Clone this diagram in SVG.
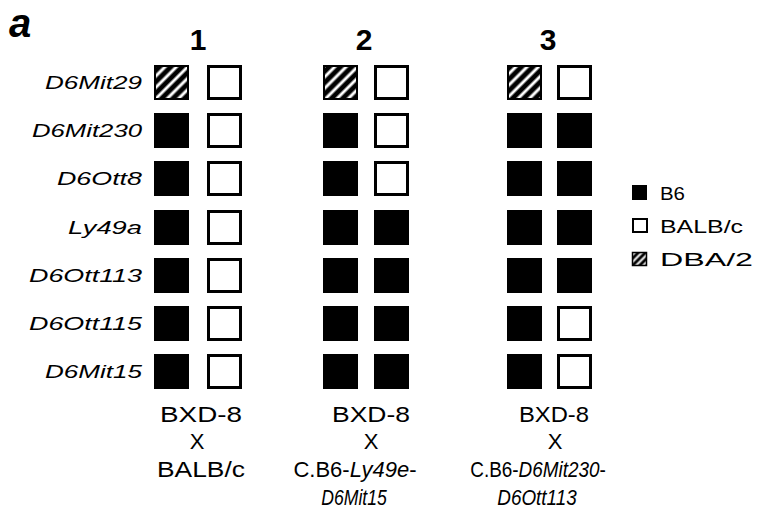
<svg xmlns="http://www.w3.org/2000/svg" width="762" height="518" viewBox="0 0 762 518">
  <style>
    .bg { fill: #ffffff; }
    .txt { font-family: "Liberation Sans", Arial, sans-serif; fill: #000000; }
    .marker { font-size: 18px; font-style: italic; text-anchor: end; }
    .num { font-size: 30px; font-weight: bold; text-anchor: middle; }
    .cross { font-size: 22px; text-anchor: middle; }
    .legend { font-size: 18px; }
    .it { font-style: italic; }
    .b6 { fill: #000000; }
    .balb { fill: #ffffff; stroke: #000000; stroke-width: 3; }
    .dba { fill: url(#hatch); stroke: #000000; stroke-width: 2; }
    .dba-s { fill: url(#hatchSmall); stroke: #000000; stroke-width: 1.5; }
  </style>
  <defs>
    <pattern id="hatch" patternUnits="userSpaceOnUse" width="8" height="8" patternTransform="rotate(45)">
      <rect width="8" height="8" fill="#000000"/>
      <rect x="2.5" y="0" width="3" height="8" fill="#ffffff"/>
    </pattern>
    <pattern id="hatchSmall" patternUnits="userSpaceOnUse" width="5" height="5" patternTransform="rotate(45)">
      <rect width="5" height="5" fill="#000000"/>
      <rect x="1.5" y="0" width="2" height="5" fill="#ffffff"/>
    </pattern>
  </defs>

  <rect class="bg" x="0" y="0" width="762" height="518"/>

  <!-- panel letter -->
  <text id="panel-label" class="txt" x="9" y="37" font-size="40" font-weight="bold" font-style="italic">a</text>

  <!-- marker names, one per row -->
  <g id="markers" class="txt marker">
    <text x="142" y="89" textLength="97" lengthAdjust="spacingAndGlyphs">D6Mit29</text>
    <text x="142" y="137" textLength="110" lengthAdjust="spacingAndGlyphs">D6Mit230</text>
    <text x="142" y="185" textLength="85" lengthAdjust="spacingAndGlyphs">D6Ott8</text>
    <text x="142" y="234" textLength="74" lengthAdjust="spacingAndGlyphs">Ly49a</text>
    <text x="142" y="282" textLength="113" lengthAdjust="spacingAndGlyphs">D6Ott113</text>
    <text x="142" y="330" textLength="113" lengthAdjust="spacingAndGlyphs">D6Ott115</text>
    <text x="142" y="378" textLength="97" lengthAdjust="spacingAndGlyphs">D6Mit15</text>
  </g>

  <!-- cross 1: BXD-8 x BALB/c -->
  <g id="cross-1">
    <text class="txt num" x="198" y="50">1</text>
    <rect class="dba" x="155" y="66" width="33" height="33"/>
    <rect class="b6" x="154" y="113" width="35" height="35"/>
    <rect class="b6" x="154" y="161" width="35" height="35"/>
    <rect class="b6" x="154" y="210" width="35" height="35"/>
    <rect class="b6" x="154" y="258" width="35" height="35"/>
    <rect class="b6" x="154" y="306" width="35" height="35"/>
    <rect class="b6" x="154" y="354" width="35" height="35"/>
    <rect class="balb" x="208.5" y="66.5" width="32" height="32"/>
    <rect class="balb" x="208.5" y="114.5" width="32" height="32"/>
    <rect class="balb" x="208.5" y="162.5" width="32" height="32"/>
    <rect class="balb" x="208.5" y="211.5" width="32" height="32"/>
    <rect class="balb" x="208.5" y="259.5" width="32" height="32"/>
    <rect class="balb" x="208.5" y="307.5" width="32" height="32"/>
    <rect class="balb" x="208.5" y="355.5" width="32" height="32"/>
    <text class="txt cross" x="201" y="422" textLength="82" lengthAdjust="spacingAndGlyphs">BXD-8</text>
    <text class="txt cross" x="197" y="449">X</text>
    <text class="txt cross" x="201" y="477" textLength="88" lengthAdjust="spacingAndGlyphs">BALB/c</text>
  </g>

  <!-- cross 2: BXD-8 x C.B6-Ly49e-D6Mit15 -->
  <g id="cross-2">
    <text class="txt num" x="364" y="50">2</text>
    <rect class="dba" x="324" y="66" width="33" height="33"/>
    <rect class="b6" x="323" y="113" width="35" height="35"/>
    <rect class="b6" x="323" y="161" width="35" height="35"/>
    <rect class="b6" x="323" y="210" width="35" height="35"/>
    <rect class="b6" x="323" y="258" width="35" height="35"/>
    <rect class="b6" x="323" y="306" width="35" height="35"/>
    <rect class="b6" x="323" y="354" width="35" height="35"/>
    <rect class="balb" x="375.5" y="66.5" width="32" height="32"/>
    <rect class="balb" x="375.5" y="114.5" width="32" height="32"/>
    <rect class="balb" x="375.5" y="162.5" width="32" height="32"/>
    <rect class="b6" x="374" y="210" width="35" height="35"/>
    <rect class="b6" x="374" y="258" width="35" height="35"/>
    <rect class="b6" x="374" y="306" width="35" height="35"/>
    <rect class="b6" x="374" y="354" width="35" height="35"/>
    <text class="txt cross" x="371" y="422" textLength="78" lengthAdjust="spacingAndGlyphs">BXD-8</text>
    <text class="txt cross" x="371" y="449">X</text>
    <text class="txt cross" x="355" y="477">C.B6-<tspan class="it">Ly49e</tspan>-</text>
    <g transform="translate(354,505) scale(0.8,1)">
      <text class="txt cross it" x="0" y="0">D6Mit15</text>
    </g>
  </g>

  <!-- cross 3: BXD-8 x C.B6-D6Mit230-D6Ott113 -->
  <g id="cross-3">
    <text class="txt num" x="548" y="50">3</text>
    <rect class="dba" x="508" y="66" width="33" height="33"/>
    <rect class="b6" x="507" y="113" width="35" height="35"/>
    <rect class="b6" x="507" y="161" width="35" height="35"/>
    <rect class="b6" x="507" y="210" width="35" height="35"/>
    <rect class="b6" x="507" y="258" width="35" height="35"/>
    <rect class="b6" x="507" y="306" width="35" height="35"/>
    <rect class="b6" x="507" y="354" width="35" height="35"/>
    <rect class="balb" x="558.5" y="66.5" width="32" height="32"/>
    <rect class="b6" x="557" y="113" width="35" height="35"/>
    <rect class="b6" x="557" y="161" width="35" height="35"/>
    <rect class="b6" x="557" y="210" width="35" height="35"/>
    <rect class="b6" x="557" y="258" width="35" height="35"/>
    <rect class="balb" x="558.5" y="307.5" width="32" height="32"/>
    <rect class="balb" x="558.5" y="355.5" width="32" height="32"/>
    <text class="txt cross" x="554" y="422" textLength="70" lengthAdjust="spacingAndGlyphs">BXD-8</text>
    <text class="txt cross" x="555" y="449">X</text>
    <g transform="translate(538,477) scale(0.86,1)">
      <text class="txt cross" x="0" y="0">C.B6-<tspan class="it">D6Mit230</tspan>-</text>
    </g>
    <g transform="translate(537,505) scale(0.86,1)">
      <text class="txt cross it" x="0" y="0">D6Ott113</text>
    </g>
  </g>

  <!-- allele key -->
  <g id="legend">
    <rect class="b6" x="632" y="185" width="15" height="15"/>
    <text class="txt legend" x="660" y="200" textLength="25" lengthAdjust="spacingAndGlyphs">B6</text>
    <rect class="balb" x="633" y="219" width="14" height="13" style="stroke-width:2"/>
    <text class="txt legend" x="660" y="233" textLength="83" lengthAdjust="spacingAndGlyphs">BALB/c</text>
    <rect class="dba-s" x="632.5" y="252.5" width="14" height="13"/>
    <text class="txt legend" x="660" y="266" textLength="93" lengthAdjust="spacingAndGlyphs">DBA/2</text>
  </g>
</svg>
